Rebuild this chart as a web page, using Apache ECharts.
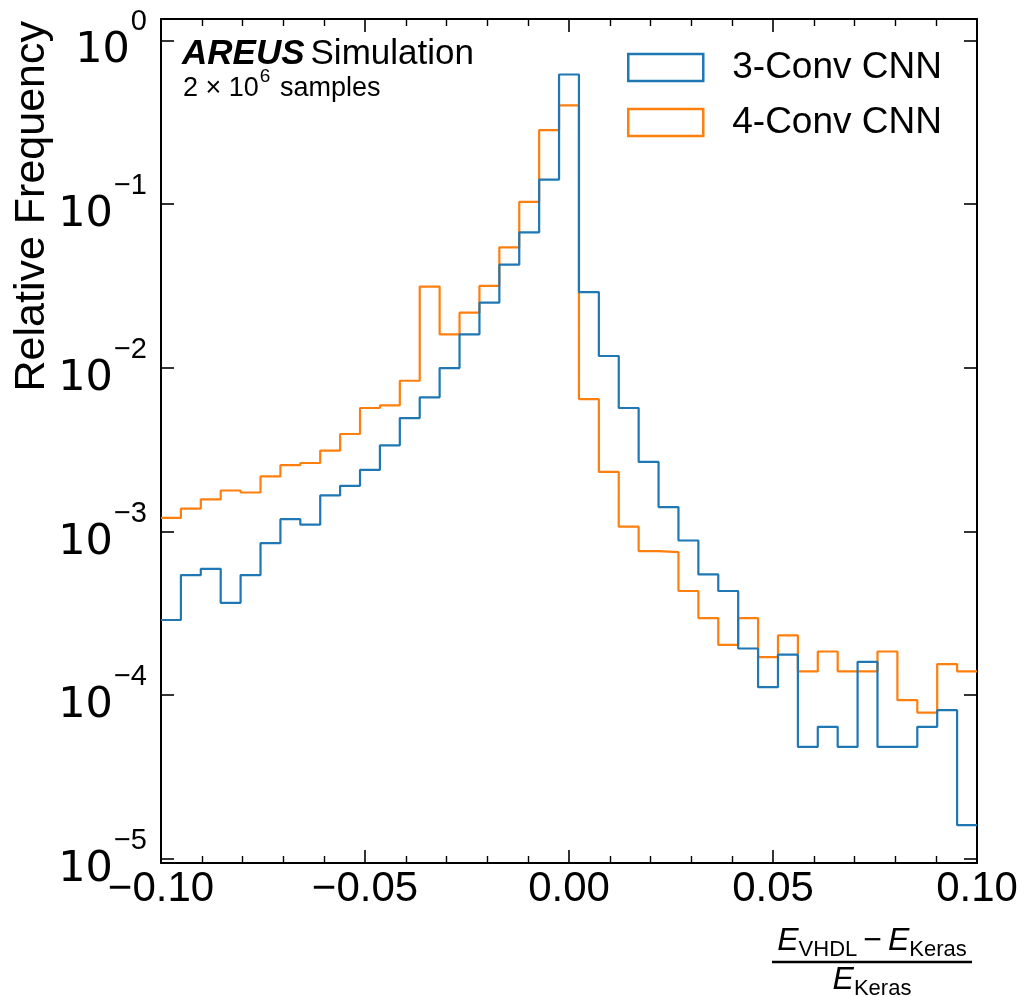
<!DOCTYPE html>
<html>
<head>
<meta charset="utf-8">
<script src="https://cdn.jsdelivr.net/npm/echarts@6/dist/echarts.min.js"></script>
<style>
html,body{margin:0;padding:0;background:#fff;}
#chart{width:1024px;height:997px;}
</style>
</head>
<body>
<div id="chart"></div>
<script>
// Histogram layout: 41 equal bins spanning [-0.1, 0.1]
const BIN_MIN = -0.1;
const BIN_MAX = 0.1;
const N_BINS = 41;

// Relative frequency per bin
const cnn3 = [2.88e-4, 5.42e-4, 5.92e-4, 3.67e-4, 5.42e-4, 8.49e-4, 1.19e-3, 1.10e-3, 1.66e-3, 1.90e-3,
              2.38e-3, 3.36e-3, 4.93e-3, 6.6e-3, 9.95e-3, 1.60e-2, 2.50e-2, 4.26e-2, 6.72e-2, 0.141,
              0.618, 2.90e-2, 1.18e-2, 5.68e-3, 2.66e-3, 1.41e-3, 8.81e-4, 5.47e-4, 4.33e-4, 1.93e-4,
              1.12e-4, 1.77e-4, 4.84e-5, 6.41e-5, 4.84e-5, 1.60e-4, 4.84e-5, 4.84e-5, 6.41e-5, 8.1e-5,
              1.61e-5];
const cnn4 = [1.21e-3, 1.38e-3, 1.57e-3, 1.78e-3, 1.73e-3, 2.17e-3, 2.54e-3, 2.62e-3, 3.12e-3, 3.94e-3,
              5.68e-3, 5.89e-3, 8.33e-3, 3.13e-2, 1.60e-2, 2.17e-2, 3.16e-2, 5.44e-2, 0.103, 0.283,
              0.400, 6.44e-3, 2.31e-3, 1.07e-3, 7.59e-4, 7.48e-4, 4.33e-4, 2.96e-4, 2.03e-4, 2.96e-4,
              1.71e-4, 2.32e-4, 1.40e-4, 1.85e-4, 1.40e-4, 1.40e-4, 1.85e-4, 9.33e-5, 7.84e-5, 1.55e-4,
              1.40e-4];
const seriesNames = ['3-Conv CNN', '4-Conv CNN'];
const Y_MIN = 9.45e-6;
const Y_MAX = 1.349;

const edges = [];
for (let k = 0; k <= N_BINS; k++) edges.push(BIN_MIN + (BIN_MAX - BIN_MIN) * k / N_BINS);

function stepPoints(vals) {
  const pts = [];
  for (let k = 0; k < vals.length; k++) {
    pts.push([edges[k], vals[k]]);
    pts.push([edges[k + 1], vals[k]]);
  }
  return pts;
}

const FONT = 'Liberation Sans';
const BLUE = '#1f77b4', ORANGE = '#ff7f0e';

function xFmt(v) {
  if (Math.abs(v) < 1e-9) return '0.00';
  return (v < 0 ? '\u2212' : '') + Math.abs(v).toFixed(2);
}
function yFmt(v) {
  const l = Math.log10(v);
  const e = Math.round(l);
  if (Math.abs(l - e) > 1e-6) return '';
  return '{b|10}{s|' + (e < 0 ? '\u2212' + (-e) : e) + '}';
}

const chart = echarts.init(document.getElementById('chart'), null, {renderer: 'canvas'});
const axisLine = {show: true, onZero: false, lineStyle: {color: '#000', width: 2}};

chart.setOption({
  animation: false,
  backgroundColor: '#fff',
  grid: {left: 161, top: 19, width: 816, height: 844, containLabel: false},
  xAxis: [{
    type: 'value', min: BIN_MIN, max: BIN_MAX, interval: 0.05, position: 'bottom',
    axisLine: axisLine,
    axisTick: {show: true, inside: true, length: 13, lineStyle: {color: '#000', width: 1.6}},
    minorTick: {show: true, splitNumber: 5, length: 7, lineStyle: {color: '#000', width: 1.4}},
    splitLine: {show: false}, minorSplitLine: {show: false},
    axisLabel: {show: true, margin: 5, formatter: xFmt, fontFamily: FONT, fontSize: 42, color: '#000',
                showMinLabel: true, showMaxLabel: true, hideOverlap: false}
  }, {
    type: 'value', min: BIN_MIN, max: BIN_MAX, interval: 0.05, position: 'top',
    axisLine: axisLine,
    axisTick: {show: true, inside: true, length: 13, lineStyle: {color: '#000', width: 1.6}},
    minorTick: {show: true, splitNumber: 5, length: 7, lineStyle: {color: '#000', width: 1.4}},
    splitLine: {show: false}, axisLabel: {show: false}
  }],
  yAxis: [{
    type: 'log', logBase: 10, min: Y_MIN, max: Y_MAX, position: 'left',
    axisLine: axisLine,
    axisTick: {show: true, inside: true, length: 13, lineStyle: {color: '#000', width: 1.6}},
    minorTick: {show: false}, splitLine: {show: false},
    axisLabel: {
      show: true, margin: 14, formatter: yFmt, color: '#000', showMinLabel: true, showMaxLabel: true,
      rich: {
        b: {fontFamily: 'DejaVu Sans', fontSize: 43, lineHeight: 44, verticalAlign: 'bottom', color: '#000'},
        s: {fontFamily: FONT, fontSize: 29, lineHeight: 65, verticalAlign: 'top', color: '#000', padding: [0, 0, 0, 1]}
      }
    }
  }, {
    type: 'log', logBase: 10, min: Y_MIN, max: Y_MAX, position: 'right',
    axisLine: axisLine,
    axisTick: {show: true, inside: true, length: 13, lineStyle: {color: '#000', width: 1.6}},
    minorTick: {show: false}, splitLine: {show: false}, axisLabel: {show: false}
  }],
  legend: {
    orient: 'vertical', left: 622, top: 44, itemWidth: 75, itemHeight: 27, itemGap: 18,
    icon: 'rect', selectedMode: false,
    textStyle: {fontFamily: FONT, fontSize: 37, color: '#000', padding: [0, 0, 0, 24]},
    data: [
      {name: seriesNames[0], icon: 'rect', itemStyle: {color: 'rgba(0,0,0,0)', borderColor: BLUE, borderWidth: 2.5}},
      {name: seriesNames[1], icon: 'rect', itemStyle: {color: 'rgba(0,0,0,0)', borderColor: ORANGE, borderWidth: 2.5}}
    ]
  },
  series: [{
    name: seriesNames[0], type: 'line', xAxisIndex: 0, yAxisIndex: 0,
    data: stepPoints(cnn3), showSymbol: false, symbol: 'none',
    lineStyle: {color: BLUE, width: 2.2}, itemStyle: {color: BLUE}, z: 3
  }, {
    name: seriesNames[1], type: 'line', xAxisIndex: 0, yAxisIndex: 0,
    data: stepPoints(cnn4), showSymbol: false, symbol: 'none',
    lineStyle: {color: ORANGE, width: 2.2}, itemStyle: {color: ORANGE}, z: 2
  }],
  graphic: [
    {type: 'text', x: 32, y: 21, rotation: Math.PI / 2,
     style: {text: 'Relative Frequency', fontFamily: FONT, fontSize: 43, fill: '#000', align: 'right', verticalAlign: 'middle'}},
    {type: 'text', x: 182, y: 37,
     style: {text: '{a|AREUS}{n|Simulation}', verticalAlign: 'top', align: 'left',
       rich: {
         a: {fontFamily: FONT, fontSize: 35, fontWeight: 'bold', fontStyle: 'italic', fill: '#000'},
         n: {fontFamily: FONT, fontSize: 35, fill: '#000', padding: [0, 0, 0, 6]}
       }}},
    {type: 'text', x: 183, y: 67,
     style: {text: '{n|2 \u00d7 10}{s|6}{n| samples}', verticalAlign: 'top', align: 'left',
       rich: {
         n: {fontFamily: FONT, fontSize: 27, lineHeight: 27, verticalAlign: 'bottom', fill: '#000'},
         s: {fontFamily: FONT, fontSize: 19, lineHeight: 35, verticalAlign: 'top', fill: '#000', padding: [0, 2, 0, 1]}
       }}},
    {type: 'text', x: 872, y: 925,
     style: {text: '{e|E}{u|VHDL}{n|\u2212}{e|E}{u|Keras}', verticalAlign: 'top', align: 'center',
       rich: {
         e: {fontFamily: FONT, fontSize: 32, lineHeight: 36, fontStyle: 'italic', verticalAlign: 'top', fill: '#000'},
         n: {fontFamily: FONT, fontSize: 32, lineHeight: 36, verticalAlign: 'top', fill: '#000', padding: [0, 6, 0, 6]},
         u: {fontFamily: FONT, fontSize: 22, lineHeight: 22, verticalAlign: 'bottom', fill: '#000'}
       }}},
    {type: 'line', shape: {x1: 772, y1: 962, x2: 972, y2: 962}, style: {stroke: '#000', lineWidth: 2.5}},
    {type: 'text', x: 872, y: 964,
     style: {text: '{e|E}{u|Keras}', verticalAlign: 'top', align: 'center',
       rich: {
         e: {fontFamily: FONT, fontSize: 32, lineHeight: 36, fontStyle: 'italic', verticalAlign: 'top', fill: '#000'},
         u: {fontFamily: FONT, fontSize: 22, lineHeight: 22, verticalAlign: 'bottom', fill: '#000'}
       }}}
  ]
});
</script>
</body>
</html>
